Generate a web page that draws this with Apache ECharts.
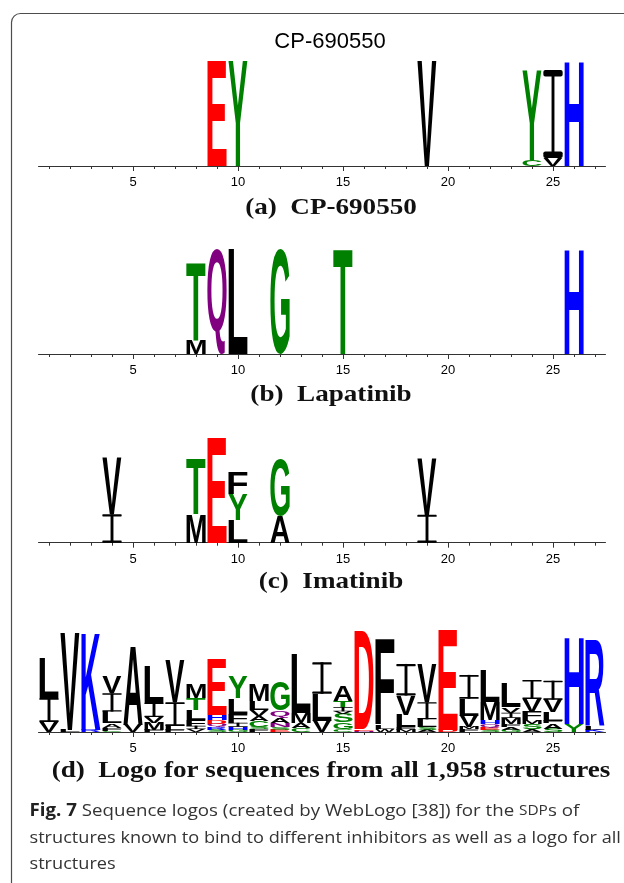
<!DOCTYPE html>
<html>
<head>
<meta charset="utf-8">
<script src="https://cdn.jsdelivr.net/npm/echarts@6/dist/echarts.min.js"></script>
<style>
html,body{margin:0;padding:0;background:#ffffff;}
#chart{width:624px;height:883px;}
</style>
</head>
<body>
<div id="chart"></div>
<script>
// ---------- DATA ----------
const positions = ['1','2','3','4','5','6','7','8','9','10','11','12','13','14','15','16','17','18','19','20','21','22','23','24','25','26','27'];
const tickLabels = ['5','10','15','20','25'];
const maxBits = 4.32; // log2(20)

// Each entry: [position, residue, height in bits]; listed bottom -> top within a position
const logoCP = [
  [9,'E',4.32],
  [10,'Y',4.32],
  [19,'V',4.32],
  [24,'C',0.25],[24,'Y',3.70],
  [25,'V',0.33],[25,'I',3.62],
  [26,'H',4.32]
];
const logoLapatinib = [
  [8,'M',0.58],[8,'T',3.21],
  [9,'Q',4.32],
  [10,'L',4.32],
  [12,'G',4.32],
  [15,'T',4.32],
  [26,'H',4.32]
];
const logoImatinib = [
  [4,'I',1.17],[4,'V',2.33],
  [8,'M',1.17],[8,'T',2.28],
  [9,'E',4.32],
  [10,'L',0.93],[10,'Y',1.06],[10,'F',0.89],
  [12,'A',1.12],[12,'G',2.33],
  [19,'I',1.15],[19,'V',2.33]
];
const logoAll = [
  [1,'V',0.41],[1,'I',0.99],[1,'L',1.65],
  [2,'L',0.10],[2,'V',4.00],
  [3,'R',0.10],[3,'K',4.02],
  [4,'C',0.06],[4,'F',0.12],[4,'A',0.18],[4,'L',0.48],[4,'I',0.75],[4,'V',0.68],
  [5,'V',0.30],[5,'A',3.24],
  [6,'F',0.08],[6,'M',0.29],[6,'V',0.25],[6,'I',0.58],[6,'L',1.50],
  [7,'F',0.10],[7,'L',0.15],[7,'I',0.97],[7,'V',1.72],
  [8,'V',0.12],[8,'I',0.14],[8,'F',0.25],[8,'L',0.40],[8,'T',0.50],[8,'M',0.56],
  [9,'S',0.10],[9,'R',0.10],[9,'Q',0.12],[9,'D',0.16],[9,'H',0.22],[9,'E',2.30],
  [10,'G',0.10],[10,'H',0.12],[10,'I',0.16],[10,'F',0.38],[10,'L',0.63],[10,'Y',0.90],
  [11,'F',0.12],[11,'S',0.10],[11,'C',0.24],[11,'A',0.20],[11,'V',0.25],[11,'L',0.36],[11,'M',0.68],
  [12,'E',0.10],[12,'S',0.12],[12,'N',0.16],[12,'A',0.22],[12,'Q',0.28],[12,'G',1.20],
  [13,'C',0.15],[13,'A',0.22],[13,'M',0.42],[13,'L',2.40],
  [14,'V',0.45],[14,'L',1.12],[14,'I',1.30],
  [15,'C',0.12],[15,'G',0.28],[15,'S',0.35],[15,'V',0.10],[15,'I',0.18],[15,'T',0.25],[15,'A',0.62],
  [16,'N',0.05],[16,'E',0.07],[16,'D',4.06],
  [17,'W',0.12],[17,'L',0.15],[17,'F',3.55],
  [18,'M',0.10],[18,'F',0.10],[18,'L',0.50],[18,'V',0.80],[18,'I',1.30],
  [19,'A',0.10],[19,'S',0.12],[19,'L',0.30],[19,'I',0.70],[19,'V',1.60],
  [20,'D',0.08],[20,'E',4.12],
  [21,'F',0.12],[21,'M',0.10],[21,'V',0.45],[21,'L',0.70],[21,'I',0.98],
  [22,'S',0.08],[22,'E',0.10],[22,'Q',0.14],[22,'H',0.16],[22,'M',0.74],[22,'L',1.32],
  [23,'G',0.10],[23,'A',0.12],[23,'F',0.12],[23,'M',0.25],[23,'I',0.20],[23,'V',0.22],[23,'L',1.00],
  [24,'A',0.12],[24,'S',0.22],[24,'M',0.14],[24,'F',0.36],[24,'V',0.52],[24,'I',0.78],
  [25,'S',0.13],[25,'A',0.22],[25,'F',0.10],[25,'L',0.38],[25,'V',0.50],[25,'I',0.78],
  [26,'Y',0.32],[26,'H',3.58],
  [27,'K',0.10],[27,'L',0.16],[27,'R',3.54]
];

const subtitles = ['(a)  CP-690550','(b)  Lapatinib','(c)  Imatinib','(d)  Logo for sequences from all 1,958 structures'];
const chartTitle = 'CP-690550';
const captionLines = [
  '{b|Fig. 7} Sequence logos (created by WebLogo [38]) for the {sc|SDP}s of',
  'structures known to bind to different inhibitors as well as a logo for all',
  'structures'
];

// ---------- STYLE / LAYOUT ----------
const gridLeft = 38.5, gridWidth = 567, gridHeight = 105;
const gridTops = [61, 249, 437.7, 627];
const subtitleY = [208, 394.5, 581.5, 770.5];
const letterWidthFrac = 0.92;

function colorOf(ch){
  if ('GSTYC'.indexOf(ch) >= 0) return '#008000';
  if ('NQ'.indexOf(ch) >= 0) return '#800080';
  if ('KRH'.indexOf(ch) >= 0) return '#0000ff';
  if ('DE'.indexOf(ch) >= 0) return '#ff0000';
  return '#000000';
}
const glyphFont = 'bold 100px "Liberation Sans"';

// glyph ink metrics (relative to a 'middle' baseline, left aligned)
const mctx = document.createElement('canvas').getContext('2d');
const glyphCache = {};
function glyph(ch){
  if (!glyphCache[ch]) {
    mctx.font = glyphFont;
    mctx.textBaseline = 'middle';
    mctx.textAlign = 'left';
    const m = mctx.measureText(ch);
    glyphCache[ch] = {L: m.actualBoundingBoxLeft, R: m.actualBoundingBoxRight, A: m.actualBoundingBoxAscent, D: m.actualBoundingBoxDescent};
  }
  return glyphCache[ch];
}

function buildStacks(entries){
  const base = {};
  return entries.map(function(e){
    const b = base[e[0]] || 0;
    base[e[0]] = b + e[2];
    return {cat: e[0]-1, base: b, top: b + e[2], ch: e[1]};
  });
}

function makeRender(stacks){
  return function(params, api){
    const s = stacks[params.dataIndex];
    const p0 = api.coord([api.value(0), api.value(1)]);
    const p1 = api.coord([api.value(0), api.value(2)]);
    const bw = api.size([1, 0])[0] * letterWidthFrac;
    const h = p0[1] - p1[1];
    if (h <= 0.15) return null;
    const fill = colorOf(s.ch);
    const x0 = p0[0] - bw/2, y0 = p1[1];
    if (s.ch === 'I') {
      // WebLogo-style serif "I": two bars and a thin stem
      const bar = Math.max(h * 0.075, 0.7);
      const stem = bw * 0.15;
      return {type: 'group', silent: true, children: [
        {type: 'rect', shape: {x: x0, y: y0, width: bw, height: bar, r: bar*0.3}, style: {fill: fill}},
        {type: 'rect', shape: {x: x0 + bw/2 - stem/2, y: y0, width: stem, height: h}, style: {fill: fill}},
        {type: 'rect', shape: {x: x0, y: y0 + h - bar, width: bw, height: bar, r: bar*0.3}, style: {fill: fill}}
      ]};
    }
    const g = glyph(s.ch);
    const sx = bw / (g.L + g.R);
    const sy = h / (g.A + g.D);
    return {
      type: 'text',
      x: x0 + g.L * sx,
      y: y0 + g.A * sy,
      scaleX: sx,
      scaleY: sy,
      silent: true,
      style: {
        text: s.ch,
        font: glyphFont,
        fill: fill,
        align: 'left',
        verticalAlign: 'middle'
      }
    };
  };
}

const panels = [logoCP, logoLapatinib, logoImatinib, logoAll];

const grids = [], xAxes = [], yAxes = [], series = [];
panels.forEach(function(entries, gi){
  grids.push({left: gridLeft, top: gridTops[gi], width: gridWidth, height: gridHeight, containLabel: false});
  xAxes.push({
    type: 'category', gridIndex: gi, data: positions, boundaryGap: true, position: 'bottom',
    axisLine: {show: true, onZero: false, lineStyle: {color: '#333333', width: 1}},
    axisTick: {show: true, interval: 0, alignWithLabel: true, length: 3, lineStyle: {color: '#333333', width: 1}},
    axisLabel: {show: true, interval: function(i, v){ return tickLabels.indexOf(v) >= 0; }, margin: 10,
      fontSize: 13, color: '#000000', fontFamily: 'Liberation Sans'},
    splitLine: {show: false}
  });
  xAxes.push({
    type: 'category', gridIndex: gi, data: positions, boundaryGap: true, position: 'bottom', offset: 0,
    axisLine: {show: false, onZero: false},
    axisTick: {show: true, interval: function(i, v){ return tickLabels.indexOf(v) >= 0; }, alignWithLabel: true, length: 5, lineStyle: {color: '#333333', width: 1}},
    axisLabel: {show: false},
    splitLine: {show: false}
  });
  yAxes.push({type: 'value', gridIndex: gi, min: 0, max: maxBits, show: false});
  const stacks = buildStacks(entries);
  series.push({
    type: 'custom',
    xAxisIndex: gi*2,
    yAxisIndex: gi,
    clip: false,
    silent: true,
    animation: false,
    encode: {x: 0, y: [1, 2]},
    data: stacks.map(function(s){ return [s.cat, s.base, s.top]; }),
    renderItem: makeRender(stacks)
  });
});

const graphics = [
  {type: 'rect', shape: {x: 11.5, y: 13.5, width: 700, height: 1000, r: 9}, style: {fill: 'none', stroke: '#4d4d4d', lineWidth: 1.2}, silent: true, z: 0},
  {type: 'text', x: 330, y: 41.5, silent: true,
    style: {text: chartTitle, font: '22px "Liberation Sans"', fill: '#000000', align: 'center', verticalAlign: 'middle'}}
];
subtitles.forEach(function(t, i){
  graphics.push({type: 'text', x: 331, y: subtitleY[i], scaleX: 1.13, silent: true,
    style: {text: t, font: 'bold 24px "Liberation Serif"', fill: '#111111', align: 'center', verticalAlign: 'middle'}});
});
const captionY = [811, 837.8, 864.6];
const captionScale = [1.10, 1.067, 1.067];
captionLines.forEach(function(t, i){
  graphics.push({type: 'text', x: 29.5, y: captionY[i], scaleX: captionScale[i], silent: true,
    style: {text: t, font: '17px "Open Sans"', fill: '#333333', align: 'left', verticalAlign: 'middle',
      rich: {
        b: {fontFamily: 'Open Sans', fontSize: 17, fontWeight: 'bold', fill: '#222222', verticalAlign: 'middle'},
        sc: {fontFamily: 'Open Sans', fontSize: 14, fill: '#333333', verticalAlign: 'middle'}
      }}});
});

const chart = echarts.init(document.getElementById('chart'), null, {renderer: 'canvas'});
chart.setOption({
  animation: false,
  backgroundColor: '#ffffff',
  grid: grids,
  xAxis: xAxes,
  yAxis: yAxes,
  series: series,
  graphic: {elements: graphics}
});
</script>
</body>
</html>
